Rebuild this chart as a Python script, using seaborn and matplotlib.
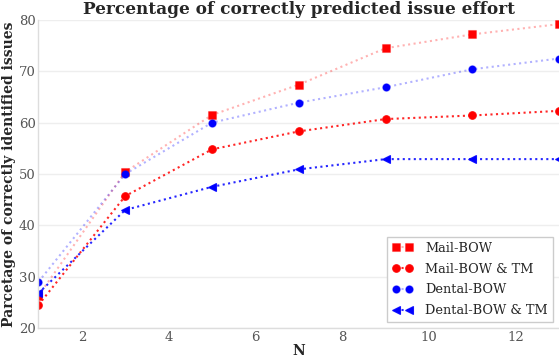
import matplotlib
matplotlib.use("Agg")
import matplotlib.pyplot as plt
import seaborn as sns
import pandas as pd

# Top-N sizes and the share of correctly identified issues per method
n_values = [1, 3, 5, 7, 9, 11, 13]
mail_bow = [26.3, 50.4, 61.5, 67.4, 74.5, 77.2, 79.2]
mail_bow_tm = [24.5, 45.7, 54.8, 58.3, 60.7, 61.4, 62.3]
dental_bow = [29.0, 50.0, 60.0, 63.9, 66.9, 70.4, 72.5]
dental_bow_tm = [26.8, 43.0, 47.5, 50.9, 52.9, 52.9, 52.9]

series_names = ["Mail-BOW", "Mail-BOW & TM", "Dental-BOW", "Dental-BOW & TM"]
series_values = [mail_bow, mail_bow_tm, dental_bow, dental_bow_tm]

x_ticks = [2, 4, 6, 8, 10, 12]
y_ticks = [20, 30, 40, 50, 60, 70, 80]

sns.set_style("whitegrid")
plt.rcParams["font.family"] = ["DejaVu Serif"]

# line colour (faded or solid), marker colour, marker shape
styles = {
    "Mail-BOW": ((1.0, 0.0, 0.0, 0.3), "red", "s"),
    "Mail-BOW & TM": ((1.0, 0.0, 0.0, 0.85), "red", "o"),
    "Dental-BOW": ((0.0, 0.0, 1.0, 0.3), "blue", "o"),
    "Dental-BOW & TM": ((0.0, 0.0, 1.0, 0.85), "blue", "<"),
}

fig = plt.figure(figsize=(5.59, 3.60), dpi=100)
ax = fig.add_axes([38.5 / 559, 1 - 328 / 360, 1 - 38.5 / 559, (328 - 20) / 360])

for name, vals in zip(series_names, series_values):
    df = pd.DataFrame({"N": n_values, "value": vals})
    line_c, mark_c, mk = styles[name]
    sns.lineplot(
        data=df, x="N", y="value", ax=ax, label=name,
        color=line_c, linestyle=":", linewidth=1.5,
        marker=mk, markersize=5.5, markerfacecolor=mark_c,
        markeredgecolor=line_c, markeredgewidth=0.8,
    )

ax.set_xlim(1, 13)
ax.set_ylim(20, 80)
ax.set_xticks(x_ticks)
ax.set_yticks(y_ticks)
ax.tick_params(axis="both", labelsize=9.5, labelcolor="#555555", length=0)
ax.tick_params(axis="x", pad=2)
ax.tick_params(axis="y", pad=2)
ax.xaxis.grid(False)
ax.yaxis.grid(True, color="#eeeeee", linewidth=1.0)
for side in ["top", "right"]:
    ax.spines[side].set_visible(False)
for side in ["left", "bottom"]:
    ax.spines[side].set_color("#dddddd")
    ax.spines[side].set_linewidth(1.0)

ax.set_title("Percentage of correctly predicted issue effort",
             fontsize=12.2, fontweight="bold", pad=4)
ax.set_xlabel("N", fontsize=10, fontweight="bold", labelpad=0)
ax.set_ylabel("Parcetage of correctly identified issues", fontsize=10,
              fontweight="bold", labelpad=2)

leg = ax.legend(loc="lower right", fontsize=9.3, frameon=True, fancybox=False,
                framealpha=1.0, edgecolor="#cccccc", handlelength=1.6,
                handletextpad=1.0, numpoints=2, borderaxespad=0.45,
                labelspacing=0.6)
leg.get_frame().set_linewidth(1.0)

fig.savefig("out.png", dpi=100)
